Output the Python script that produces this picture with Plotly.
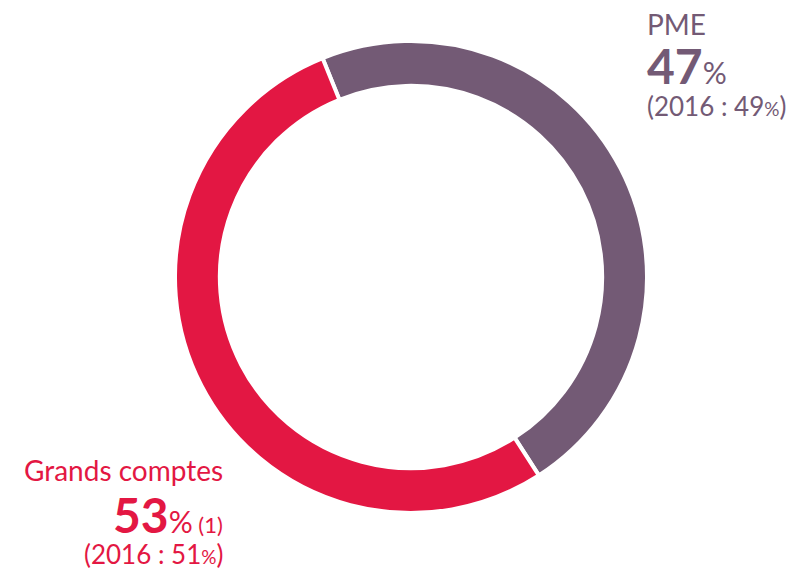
import plotly.graph_objects as go

W, H = 796, 572
OFF = 8  # page body margin shifts the figure

labels = ["PME", "Grands comptes"]
values = [47, 53]
prev_2016 = [49, 51]
colors = ["#735A75", "#E31743"]


def px_x(v):
    return (v - OFF) / W


def px_y(v):
    return 1 - (v - OFF) / H


R = 236
CX, CY = 411, 277

fig = go.Figure(go.Pie(
    labels=labels,
    values=values,
    hole=0.81,
    sort=False,
    direction="clockwise",
    rotation=-22,
    marker=dict(colors=colors, line=dict(color="white", width=4)),
    textinfo="none",
    hoverinfo="none",
    showlegend=False,
    domain=dict(x=[px_x(CX - R), px_x(CX + R)],
                y=[px_y(CY + R), px_y(CY - R)]),
))

font_name = "Lato"

# PME block (left aligned, top right)
pme_lines = [
    (labels[0], 24, 28),
    ("<b>%d</b><span style='font-size:30px'>%%</span>" % values[0], 65, 48),
    ("(2016 : %d<span style='font-size:19px'>%%</span>)" % prev_2016[0], 106, 26),
]
for txt, y, size in pme_lines:
    fig.add_annotation(x=px_x(646), y=px_y(y), xref="paper", yref="paper",
                       text=txt, showarrow=False, xanchor="left", yanchor="middle",
                       borderpad=0,
                       font=dict(family=font_name, size=size, color=colors[0]))

# Grands comptes block (right aligned, bottom left)
gc_lines = [
    (labels[1], 470, 28),
    ("<b>%d</b><span style='font-size:30px'>%%</span><span style='font-size:22px'> (1)</span>" % values[1], 514, 48),
    ("(2016 : %d<span style='font-size:19px'>%%</span>)" % prev_2016[1], 554, 26),
]
for txt, y, size in gc_lines:
    fig.add_annotation(x=px_x(224), y=px_y(y), xref="paper", yref="paper",
                       text=txt, showarrow=False, xanchor="right", yanchor="middle",
                       borderpad=0,
                       font=dict(family=font_name, size=size, color=colors[1]))

fig.update_layout(
    width=W, height=H,
    margin=dict(l=0, r=0, t=0, b=0),
    paper_bgcolor="white",
    plot_bgcolor="white",
)

fig.write_html("out.html")
